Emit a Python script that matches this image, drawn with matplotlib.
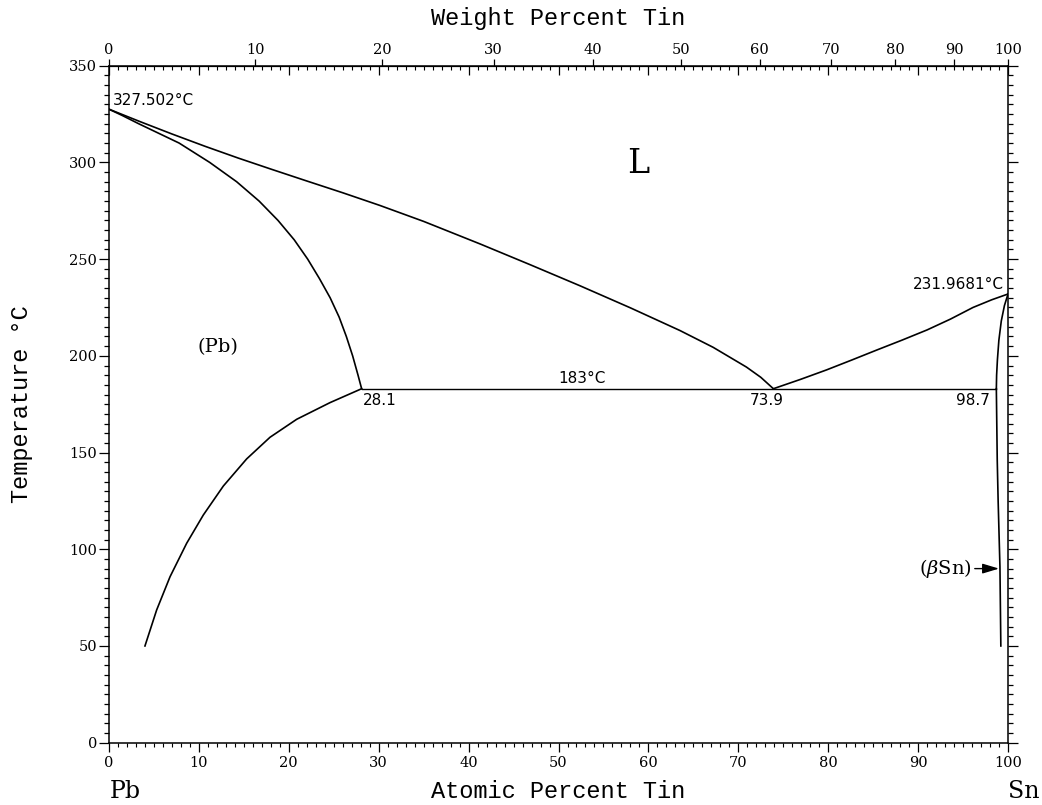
import matplotlib.pyplot as plt
import numpy as np

# Pb-Sn phase diagram
# x = atomic percent Sn, y = temperature in C
liq_pb_at = [0, 3.5, 7.0, 10.7, 14.4, 18.1, 21.8, 26.0, 30.1, 35.0, 41.3, 46.8, 52.4, 58.0, 63.5, 67.2, 70.9, 72.5, 73.9]
liq_pb_T = [327.502, 321.0, 314.7, 308.3, 302.2, 296.4, 290.7, 284.3, 277.8, 269.5, 257.8, 247.2, 236.2, 224.8, 213.1, 204.4, 194.2, 188.9, 183]

sol_pb_at = [0, 1.5, 3.3, 7.8, 11.2, 14.2, 16.7, 18.8, 20.6, 22.1, 23.4, 24.6, 25.6, 26.4, 27.1, 27.7, 28.1]
sol_pb_T = [327.502, 324.2, 320.0, 310.0, 300.0, 290.0, 280.0, 270.0, 260.0, 250.0, 240.0, 230.0, 220.0, 210.0, 200.0, 190.0, 183]

solv_pb_at = [28.1, 24.58, 20.88, 17.91, 15.31, 12.72, 10.49, 8.64, 6.79, 5.30, 4.0]
solv_pb_T = [183, 175.8, 167.2, 157.9, 146.7, 132.7, 117.7, 103.1, 85.8, 68.6, 50]

liq_sn_at = [73.9, 76.9, 79.8, 82.6, 85.4, 88.2, 91.0, 93.6, 96.1, 98.2, 100]
liq_sn_T = [183, 187.8, 192.7, 197.8, 203.0, 208.1, 213.4, 219.0, 225.0, 229.0, 231.9681]

sol_sn_at = [100, 99.6, 99.25, 98.98, 98.82, 98.73, 98.7]
sol_sn_T = [231.9681, 226.0, 218.0, 208.0, 198.0, 190.0, 183]

solv_sn_at = [98.7, 98.8, 98.9, 99.0, 99.1, 99.2]
solv_sn_T = [183, 146, 125, 108, 91, 50]

eut_at = [28.1, 98.7]
eut_T = [183, 183]

wt_ticks = [0, 10, 20, 30, 40, 50, 60, 70, 80, 90, 100]

M_PB = 207.2
M_SN = 118.71


def at_to_wt(a):
    a = np.asarray(a, dtype=float)
    with np.errstate(divide="ignore", invalid="ignore"):
        return 100 * a * M_SN / (a * M_SN + (100 - a) * M_PB)


def wt_to_at(w):
    w = np.asarray(w, dtype=float)
    with np.errstate(divide="ignore", invalid="ignore"):
        return 100 * (w / M_SN) / (w / M_SN + (100 - w) / M_PB)


serif = "DejaVu Serif"
mono = "Liberation Mono"
plt.rcParams["mathtext.fontset"] = "dejavuserif"

fig = plt.figure(figsize=(10.42, 8.05), dpi=100)
ax = fig.add_axes([0.1046, 0.0774, 0.8628, 0.841])

for xs, ys in [(liq_pb_at, liq_pb_T), (sol_pb_at, sol_pb_T), (solv_pb_at, solv_pb_T),
               (liq_sn_at, liq_sn_T), (sol_sn_at, sol_sn_T), (solv_sn_at, solv_sn_T)]:
    ax.plot(xs, ys, color="black", lw=1.2, solid_joinstyle="round")
ax.plot(eut_at, eut_T, color="black", lw=1.0)

ax.set_xlim(0, 100)
ax.set_ylim(0, 350)
for sp in ax.spines.values():
    sp.set_linewidth(1.1)

# bottom: atomic percent, ticks outward
ax.set_xticks(np.arange(0, 101, 10))
ax.set_xticks(np.arange(0, 101, 1), minor=True)
ax.tick_params(axis="x", which="major", direction="out", length=6.5, width=0.9, pad=3,
               labelsize=10.5)
ax.tick_params(axis="x", which="minor", direction="out", length=3, width=0.8)
# left/right: temperature, ticks outward both sides
ax.set_yticks(np.arange(0, 351, 50))
ax.set_yticks(np.arange(0, 351, 5), minor=True)
ax.tick_params(axis="y", which="both", right=True, direction="out", width=0.9)
ax.tick_params(axis="y", which="major", length=7, pad=1.5, labelsize=10.5)
ax.tick_params(axis="y", which="minor", length=3.5)
for lab in ax.get_xticklabels() + ax.get_yticklabels():
    lab.set_family(serif)

# top: atomic percent ticks pointing inward, no labels
top_at = ax.secondary_xaxis("top", functions=(lambda x: x, lambda x: x))
top_at.set_xticks(np.arange(0, 101, 10))
top_at.set_xticks(np.arange(0, 101, 1), minor=True)
top_at.tick_params(which="major", direction="in", length=6.5, width=0.9, labeltop=False)
top_at.tick_params(which="minor", direction="in", length=3, width=0.8)

# top: weight percent ticks outward with labels
top_wt = ax.secondary_xaxis("top", functions=(at_to_wt, wt_to_at))
top_wt.set_xticks(wt_ticks)
top_wt.xaxis.set_minor_locator(plt.NullLocator())
top_wt.tick_params(which="major", direction="out", length=5, width=0.9, pad=1, labelsize=10.5)
for lab in top_wt.get_xticklabels():
    lab.set_family(serif)

# axis titles
fig.text(558 / 1042, 1 - 18 / 805, "Weight Percent Tin", family=mono, fontsize=17,
         ha="center", va="center")
fig.text(558 / 1042, 1 - 791 / 805, "Atomic Percent Tin", family=mono, fontsize=17,
         ha="center", va="center")
fig.text(22 / 1042, 1 - 404 / 805, "Temperature °C", family=mono, fontsize=17,
         ha="center", va="center", rotation=90)
fig.text(110 / 1042, 1 - 791 / 805, "Pb", family=serif, fontsize=17, ha="left", va="center")
fig.text(1008 / 1042, 1 - 791 / 805, "Sn", family=serif, fontsize=17, ha="left", va="center")

# annotations
ax.text(0.4, 331.8, "327.502°C", fontsize=11, ha="left", va="center")
ax.text(99.5, 237.0, "231.9681°C", fontsize=11, ha="right", va="center")
ax.text(52.6, 184.5, "183°C", fontsize=11, ha="center", va="bottom")
ax.text(28.2, 181, "28.1", fontsize=11, ha="left", va="top")
ax.text(73.2, 181, "73.9", fontsize=11, ha="center", va="top")
ax.text(98.0, 181, "98.7", fontsize=11, ha="right", va="top")
ax.text(12.1, 204.3, "(Pb)", family=serif, fontsize=14, ha="center", va="center")
ax.text(58.9, 299, "L", family=serif, fontsize=24, ha="center", va="center")
ax.text(96.0, 90, r"($\beta$Sn)", family=serif, fontsize=14, ha="right", va="center")
ax.annotate("", xy=(99.0, 90), xytext=(96.3, 90),
            arrowprops=dict(arrowstyle="-|>,head_length=1.0,head_width=0.3",
                            color="black", lw=1, mutation_scale=10,
                            shrinkA=0, shrinkB=0))

fig.savefig("out.png", dpi=100, facecolor="white")
